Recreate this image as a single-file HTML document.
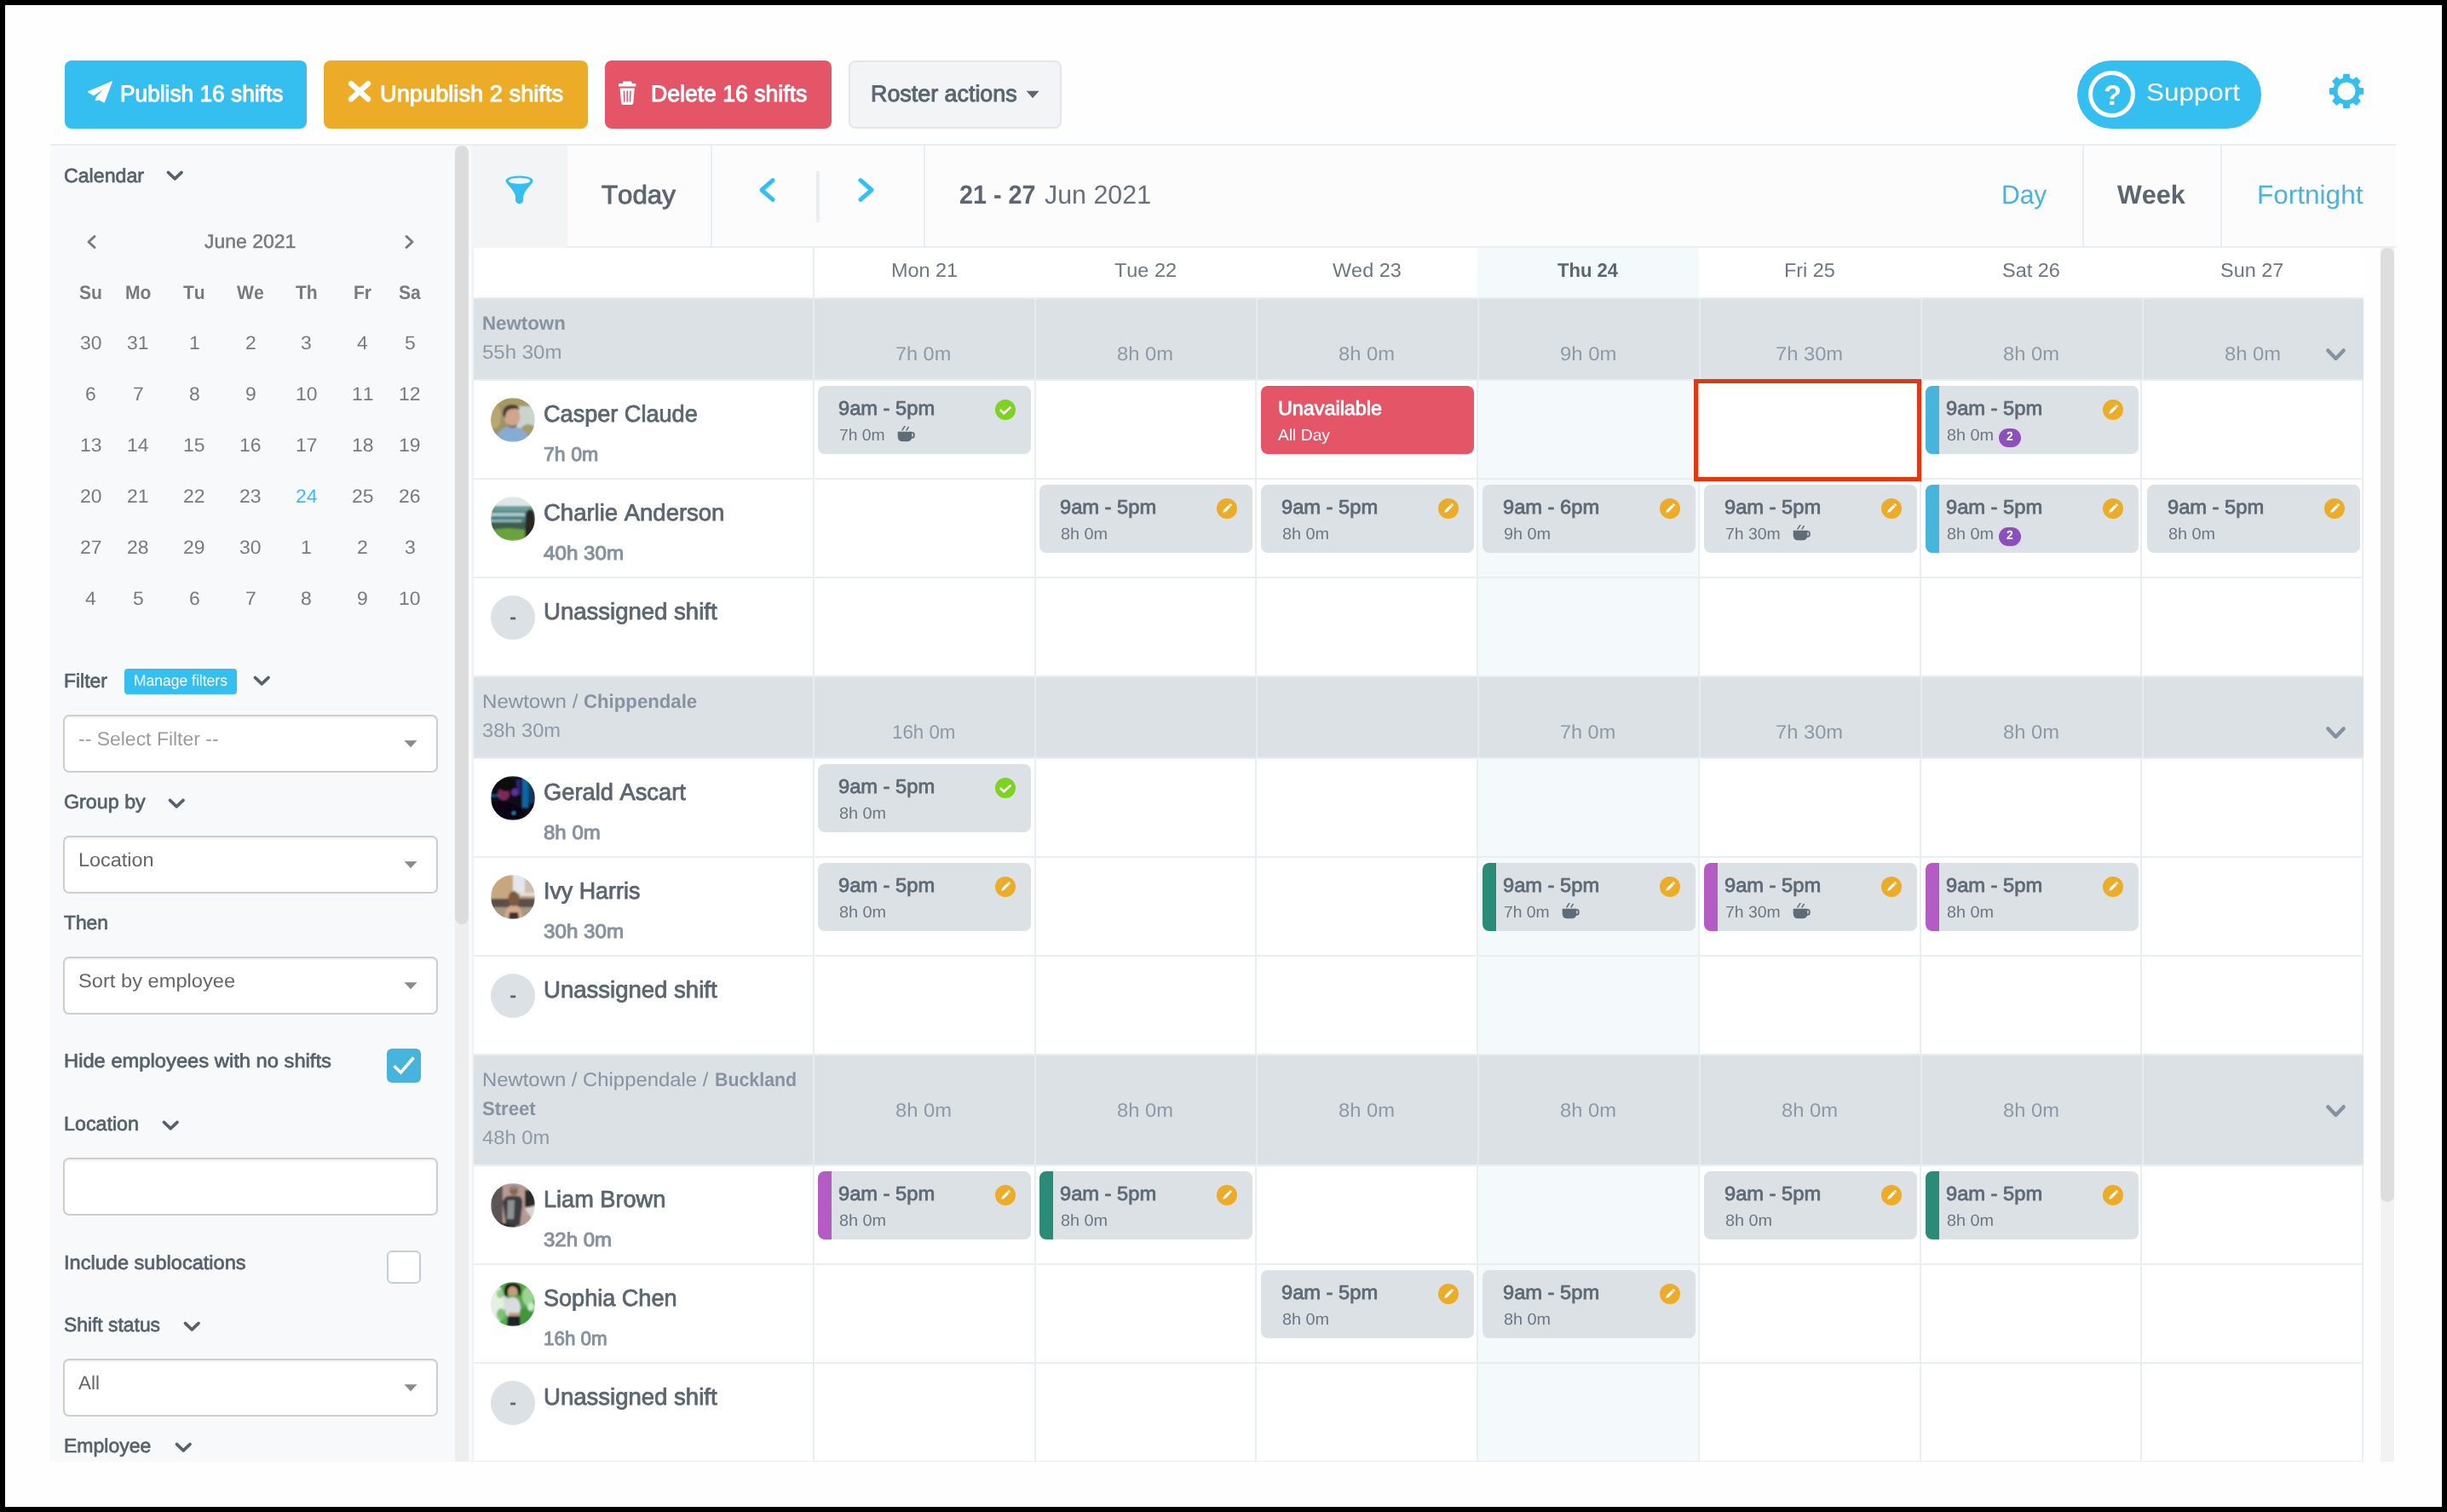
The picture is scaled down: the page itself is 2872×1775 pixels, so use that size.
<!DOCTYPE html>
<html><head><meta charset="utf-8"><title>Roster</title>
<style>
html,body{margin:0;padding:0;background:#000;}
#w{position:absolute;left:0;top:0;width:2872px;height:1775px;will-change:transform;}
body{width:2872px;height:1775px;position:relative;overflow:hidden;font-family:"Liberation Sans",sans-serif;font-kerning:none;text-rendering:geometricPrecision;}
#p{position:absolute;left:6px;top:6px;width:2860px;height:1763px;background:#fefefe;}
div,span.t,svg{position:absolute;box-sizing:border-box;}
span.t{white-space:nowrap;transform-origin:0 0;display:block;}
</style></head><body><div id="w"><div id="p"></div>
<div style="left:59px;top:169px;width:2753px;height:2px;background:#e9eef2;"></div>
<div style="left:76px;top:71px;width:284px;height:80px;background:#35bef0;border-radius:8px;"></div>
<svg style="left:100px;top:92px" width="36" height="32" viewBox="100 92 36 32"><path d="M131.6 95.6 L103 107.8 L109.8 112 L123 103.2 L113.4 113.6 L112 117.8 L116.2 117.2 L122.4 120.2 Z" fill="#fff" stroke="#fff" stroke-width="0.8" stroke-linejoin="round"/></svg>
<span class="t" style="left:141.20px;top:97px;font-size:27.04px;line-height:27.04px;color:#fff;transform:scaleX(0.9721);-webkit-text-stroke:1.0px #fff;">Publish 16 shifts</span>
<div style="left:380px;top:71px;width:310px;height:80px;background:#ecac27;border-radius:8px;"></div>
<svg style="left:404px;top:90px" width="36" height="36" viewBox="404 90 36 36"><path d="M412 98.2 L432 116.4 M432 98.2 L412 116.4" stroke="#fff" stroke-width="6.4" stroke-linecap="round" fill="none"/></svg>
<span class="t" style="left:445.80px;top:97px;font-size:27.04px;line-height:27.04px;color:#fff;transform:scaleX(1.0083);-webkit-text-stroke:1.0px #fff;">Unpublish 2 shifts</span>
<div style="left:710px;top:71px;width:266px;height:80px;background:#e35567;border-radius:8px;"></div>
<svg style="left:722px;top:92px" width="30" height="34" viewBox="722 92 30 34"><path d="M731.5 95.4 h9.4 l1 2.6 h4.4 v3.4 h-20.2 v-3.4 h4.4 z" fill="#fff"/><path d="M727.6 103.6 h17.2 l-1.5 17.2 q-.2 2.2 -2.4 2.2 h-9.4 q-2.2 0 -2.4 -2.2 z" fill="#fff"/><path d="M732.4 106.6 l.5 13 M736.2 106.6 v13 M740 106.6 l-.5 13" stroke="#e35567" stroke-width="1.5" fill="none"/></svg>
<span class="t" style="left:764.20px;top:97px;font-size:27.04px;line-height:27.04px;color:#fff;transform:scaleX(0.9840);-webkit-text-stroke:1.0px #fff;">Delete 16 shifts</span>
<div style="left:996px;top:71px;width:250px;height:80px;background:#f3f4f6;border-radius:8px;border:2px solid #e2e6eb;"></div>
<span class="t" style="left:1021.80px;top:97px;font-size:27.04px;line-height:27.04px;color:#5b6670;transform:scaleX(0.9935);-webkit-text-stroke:1.0px #5b6670;">Roster actions</span>
<svg style="left:1203px;top:105px" width="18" height="12" viewBox="1203 105 18 12"><path d="M1204.6 106.8 h15 l-7.5 8.4 z" fill="#5b6670"/></svg>
<div style="left:2438px;top:71px;width:216px;height:80px;background:#35bef0;border-radius:40px;"></div>
<div style="left:2451px;top:82.5px;width:55px;height:55px;background:transparent;border-radius:50%;border:5px solid #fff;"></div>
<span class="t" style="left:2468.67px;top:96px;font-size:32.85px;line-height:32.85px;color:#fff;transform:scaleX(1.0500);font-weight:700;">?</span>
<span class="t" style="left:2519.20px;top:95px;font-size:28.78px;line-height:28.78px;color:#fff;transform:scaleX(1.0913);">Support</span>
<svg style="left:2730px;top:84px" width="48" height="48" viewBox="2730 84 48 48"><path d="M2750.45 92.22 L2750.93 87.64 L2757.07 87.64 L2757.55 92.22 L2761.94 94.04 L2765.52 91.14 L2769.86 95.48 L2766.96 99.06 L2768.78 103.45 L2773.36 103.93 L2773.36 110.07 L2768.78 110.55 L2766.96 114.94 L2769.86 118.52 L2765.52 122.86 L2761.94 119.96 L2757.55 121.78 L2757.07 126.36 L2750.93 126.36 L2750.45 121.78 L2746.06 119.96 L2742.48 122.86 L2738.14 118.52 L2741.04 114.94 L2739.22 110.55 L2734.64 110.07 L2734.64 103.93 L2739.22 103.45 L2741.04 99.06 L2738.14 95.48 L2742.48 91.14 L2746.06 94.04 Z" fill="#35bef0" stroke="#35bef0" stroke-width="1.6" stroke-linejoin="round"/><circle cx="2754" cy="107" r="10.5" fill="#fefefe"/></svg>
<div style="left:59px;top:171px;width:495px;height:1545px;background:#f8f9fb;"></div>
<div style="left:534px;top:171px;width:16px;height:1545px;background:#eeeeee;border-radius:8px 8px 0 0;"></div>
<div style="left:534px;top:171px;width:16px;height:914px;background:#dcdcdc;border-radius:8px;"></div>
<span class="t" style="left:75.00px;top:195px;font-size:23.11px;line-height:23.11px;color:#56616b;transform:scaleX(1.0023);-webkit-text-stroke:0.7px #56616b;">Calendar</span>
<svg style="left:193px;top:198.4px" width="24.5" height="16.5" viewBox="193 198.4 24.5 16.5"><path d="M197.4 202.8 L205.25 210.3 L213.1 202.8" stroke="#56616b" stroke-width="3.6" fill="none" stroke-linecap="round" stroke-linejoin="round"/></svg>
<svg style="left:99.5px;top:274.2px" width="15" height="20" viewBox="99.5 274.2 15 20"><path d="M110.5 277.7 L103.5 284.2 L110.5 290.7" stroke="#7a7a7a" stroke-width="3" fill="none" stroke-linecap="round" stroke-linejoin="round"/></svg>
<svg style="left:473px;top:274.2px" width="15" height="20" viewBox="473 274.2 15 20"><path d="M477 277.7 L484 284.2 L477 290.7" stroke="#7a7a7a" stroke-width="3" fill="none" stroke-linecap="round" stroke-linejoin="round"/></svg>
<span class="t" style="left:240.15px;top:272px;font-size:22.67px;line-height:22.67px;color:#7a7a7a;transform:scaleX(1.0133);-webkit-text-stroke:0.5px #7a7a7a;">June 2021</span>
<span class="t" style="left:92.83px;top:332px;font-size:22.67px;line-height:22.67px;color:#7a7a7a;transform:scaleX(0.9300);font-weight:700;">Su</span>
<span class="t" style="left:146.78px;top:332px;font-size:22.67px;line-height:22.67px;color:#7a7a7a;transform:scaleX(0.9300);font-weight:700;">Mo</span>
<span class="t" style="left:215.12px;top:332px;font-size:22.67px;line-height:22.67px;color:#7a7a7a;transform:scaleX(0.9300);font-weight:700;">Tu</span>
<span class="t" style="left:278.19px;top:332px;font-size:22.67px;line-height:22.67px;color:#7a7a7a;transform:scaleX(0.9300);font-weight:700;">We</span>
<span class="t" style="left:346.62px;top:332px;font-size:22.67px;line-height:22.67px;color:#7a7a7a;transform:scaleX(0.9300);font-weight:700;">Th</span>
<span class="t" style="left:415.16px;top:332px;font-size:22.67px;line-height:22.67px;color:#7a7a7a;transform:scaleX(0.9300);font-weight:700;">Fr</span>
<span class="t" style="left:468.11px;top:332px;font-size:22.67px;line-height:22.67px;color:#7a7a7a;transform:scaleX(0.9300);font-weight:700;">Sa</span>
<span class="t" style="left:93.56px;top:392px;font-size:22.24px;line-height:22.24px;color:#7a7a7a;transform:scaleX(1.0300);">30</span>
<span class="t" style="left:149.26px;top:392px;font-size:22.24px;line-height:22.24px;color:#7a7a7a;transform:scaleX(1.0300);">31</span>
<span class="t" style="left:221.63px;top:392px;font-size:22.24px;line-height:22.24px;color:#7a7a7a;transform:scaleX(1.0300);">1</span>
<span class="t" style="left:287.63px;top:392px;font-size:22.24px;line-height:22.24px;color:#7a7a7a;transform:scaleX(1.0300);">2</span>
<span class="t" style="left:353.13px;top:392px;font-size:22.24px;line-height:22.24px;color:#7a7a7a;transform:scaleX(1.0300);">3</span>
<span class="t" style="left:419.33px;top:392px;font-size:22.24px;line-height:22.24px;color:#7a7a7a;transform:scaleX(1.0300);">4</span>
<span class="t" style="left:474.63px;top:392px;font-size:22.24px;line-height:22.24px;color:#7a7a7a;transform:scaleX(1.0300);">5</span>
<span class="t" style="left:99.93px;top:452px;font-size:22.24px;line-height:22.24px;color:#7a7a7a;transform:scaleX(1.0300);">6</span>
<span class="t" style="left:155.63px;top:452px;font-size:22.24px;line-height:22.24px;color:#7a7a7a;transform:scaleX(1.0300);">7</span>
<span class="t" style="left:221.63px;top:452px;font-size:22.24px;line-height:22.24px;color:#7a7a7a;transform:scaleX(1.0300);">8</span>
<span class="t" style="left:287.63px;top:452px;font-size:22.24px;line-height:22.24px;color:#7a7a7a;transform:scaleX(1.0300);">9</span>
<span class="t" style="left:346.76px;top:452px;font-size:22.24px;line-height:22.24px;color:#7a7a7a;transform:scaleX(1.0300);">10</span>
<span class="t" style="left:412.96px;top:452px;font-size:22.24px;line-height:22.24px;color:#7a7a7a;transform:scaleX(1.0300);">11</span>
<span class="t" style="left:468.26px;top:452px;font-size:22.24px;line-height:22.24px;color:#7a7a7a;transform:scaleX(1.0300);">12</span>
<span class="t" style="left:93.56px;top:512px;font-size:22.24px;line-height:22.24px;color:#7a7a7a;transform:scaleX(1.0300);">13</span>
<span class="t" style="left:149.26px;top:512px;font-size:22.24px;line-height:22.24px;color:#7a7a7a;transform:scaleX(1.0300);">14</span>
<span class="t" style="left:215.26px;top:512px;font-size:22.24px;line-height:22.24px;color:#7a7a7a;transform:scaleX(1.0300);">15</span>
<span class="t" style="left:281.26px;top:512px;font-size:22.24px;line-height:22.24px;color:#7a7a7a;transform:scaleX(1.0300);">16</span>
<span class="t" style="left:346.76px;top:512px;font-size:22.24px;line-height:22.24px;color:#7a7a7a;transform:scaleX(1.0300);">17</span>
<span class="t" style="left:412.96px;top:512px;font-size:22.24px;line-height:22.24px;color:#7a7a7a;transform:scaleX(1.0300);">18</span>
<span class="t" style="left:468.26px;top:512px;font-size:22.24px;line-height:22.24px;color:#7a7a7a;transform:scaleX(1.0300);">19</span>
<span class="t" style="left:93.56px;top:572px;font-size:22.24px;line-height:22.24px;color:#7a7a7a;transform:scaleX(1.0300);">20</span>
<span class="t" style="left:149.26px;top:572px;font-size:22.24px;line-height:22.24px;color:#7a7a7a;transform:scaleX(1.0300);">21</span>
<span class="t" style="left:215.26px;top:572px;font-size:22.24px;line-height:22.24px;color:#7a7a7a;transform:scaleX(1.0300);">22</span>
<span class="t" style="left:281.26px;top:572px;font-size:22.24px;line-height:22.24px;color:#7a7a7a;transform:scaleX(1.0300);">23</span>
<span class="t" style="left:346.76px;top:572px;font-size:22.24px;line-height:22.24px;color:#38bdf0;transform:scaleX(1.0300);">24</span>
<span class="t" style="left:412.96px;top:572px;font-size:22.24px;line-height:22.24px;color:#7a7a7a;transform:scaleX(1.0300);">25</span>
<span class="t" style="left:468.26px;top:572px;font-size:22.24px;line-height:22.24px;color:#7a7a7a;transform:scaleX(1.0300);">26</span>
<span class="t" style="left:93.56px;top:632px;font-size:22.24px;line-height:22.24px;color:#7a7a7a;transform:scaleX(1.0300);">27</span>
<span class="t" style="left:149.26px;top:632px;font-size:22.24px;line-height:22.24px;color:#7a7a7a;transform:scaleX(1.0300);">28</span>
<span class="t" style="left:215.26px;top:632px;font-size:22.24px;line-height:22.24px;color:#7a7a7a;transform:scaleX(1.0300);">29</span>
<span class="t" style="left:281.26px;top:632px;font-size:22.24px;line-height:22.24px;color:#7a7a7a;transform:scaleX(1.0300);">30</span>
<span class="t" style="left:353.13px;top:632px;font-size:22.24px;line-height:22.24px;color:#7a7a7a;transform:scaleX(1.0300);">1</span>
<span class="t" style="left:419.33px;top:632px;font-size:22.24px;line-height:22.24px;color:#7a7a7a;transform:scaleX(1.0300);">2</span>
<span class="t" style="left:474.63px;top:632px;font-size:22.24px;line-height:22.24px;color:#7a7a7a;transform:scaleX(1.0300);">3</span>
<span class="t" style="left:99.93px;top:692px;font-size:22.24px;line-height:22.24px;color:#7a7a7a;transform:scaleX(1.0300);">4</span>
<span class="t" style="left:155.63px;top:692px;font-size:22.24px;line-height:22.24px;color:#7a7a7a;transform:scaleX(1.0300);">5</span>
<span class="t" style="left:221.63px;top:692px;font-size:22.24px;line-height:22.24px;color:#7a7a7a;transform:scaleX(1.0300);">6</span>
<span class="t" style="left:287.63px;top:692px;font-size:22.24px;line-height:22.24px;color:#7a7a7a;transform:scaleX(1.0300);">7</span>
<span class="t" style="left:353.13px;top:692px;font-size:22.24px;line-height:22.24px;color:#7a7a7a;transform:scaleX(1.0300);">8</span>
<span class="t" style="left:419.33px;top:692px;font-size:22.24px;line-height:22.24px;color:#7a7a7a;transform:scaleX(1.0300);">9</span>
<span class="t" style="left:468.26px;top:692px;font-size:22.24px;line-height:22.24px;color:#7a7a7a;transform:scaleX(1.0300);">10</span>
<span class="t" style="left:75.00px;top:788px;font-size:23.11px;line-height:23.11px;color:#56616b;transform:scaleX(0.9931);-webkit-text-stroke:0.7px #56616b;">Filter</span>
<div style="left:146px;top:785px;width:132px;height:30px;background:#35bef0;border-radius:4px;"></div>
<span class="t" style="left:157.00px;top:790px;font-size:18.31px;line-height:18.31px;color:#fff;transform:scaleX(0.9565);">Manage filters</span>
<svg style="left:295px;top:791px" width="24.5" height="16.5" viewBox="295 791 24.5 16.5"><path d="M299.4 795.4 L307.25 802.9 L315.1 795.4" stroke="#56616b" stroke-width="3.6" fill="none" stroke-linecap="round" stroke-linejoin="round"/></svg>
<div style="left:74px;top:839.2px;width:440px;height:67.6px;background:#fff;border-radius:7px;border:2px solid #cdcdcd;box-shadow:inset 0 2px 2px rgba(0,0,0,.05);"></div>
<span class="t" style="left:92.00px;top:857px;font-size:22.53px;line-height:22.53px;color:#9c9c9c;transform:scaleX(1.0200);">-- Select Filter --</span>
<svg style="left:473px;top:868px" width="18" height="11" viewBox="473 868 18 11"><path d="M474.5 869.2 h15 l-7.5 8 z" fill="#8a8a8a"/></svg>
<span class="t" style="left:75.00px;top:930px;font-size:23.11px;line-height:23.11px;color:#56616b;transform:scaleX(1.0068);-webkit-text-stroke:0.7px #56616b;">Group by</span>
<svg style="left:195px;top:935px" width="24.5" height="16.5" viewBox="195 935 24.5 16.5"><path d="M199.4 939.4 L207.25 946.9 L215.1 939.4" stroke="#56616b" stroke-width="3.6" fill="none" stroke-linecap="round" stroke-linejoin="round"/></svg>
<div style="left:74px;top:981.2px;width:440px;height:67.6px;background:#fff;border-radius:7px;border:2px solid #cdcdcd;box-shadow:inset 0 2px 2px rgba(0,0,0,.05);"></div>
<span class="t" style="left:92.00px;top:999px;font-size:22.53px;line-height:22.53px;color:#666;transform:scaleX(1.0413);">Location</span>
<svg style="left:473px;top:1010px" width="18" height="11" viewBox="473 1010 18 11"><path d="M474.5 1011.2 h15 l-7.5 8 z" fill="#8a8a8a"/></svg>
<span class="t" style="left:75.00px;top:1072px;font-size:23.11px;line-height:23.11px;color:#56616b;transform:scaleX(0.9872);-webkit-text-stroke:0.7px #56616b;">Then</span>
<div style="left:74px;top:1123.2px;width:440px;height:67.6px;background:#fff;border-radius:7px;border:2px solid #cdcdcd;box-shadow:inset 0 2px 2px rgba(0,0,0,.05);"></div>
<span class="t" style="left:92.00px;top:1141px;font-size:22.53px;line-height:22.53px;color:#666;transform:scaleX(1.0512);">Sort by employee</span>
<svg style="left:473px;top:1152px" width="18" height="11" viewBox="473 1152 18 11"><path d="M474.5 1153.2 h15 l-7.5 8 z" fill="#8a8a8a"/></svg>
<span class="t" style="left:75.00px;top:1234px;font-size:22.82px;line-height:22.82px;color:#56616b;transform:scaleX(1.0402);-webkit-text-stroke:0.7px #56616b;">Hide employees with no shifts</span>
<div style="left:454px;top:1231px;width:40px;height:40px;background:#46b4dc;border-radius:6px;"></div>
<svg style="left:454px;top:1231px" width="40" height="40" viewBox="0 0 40 40"><path d="M8.5 20.5 L16.5 28 L31.5 10.5" stroke="#fff" stroke-width="3.6" fill="none"/></svg>
<span class="t" style="left:75.00px;top:1308px;font-size:23.11px;line-height:23.11px;color:#56616b;transform:scaleX(1.0072);-webkit-text-stroke:0.7px #56616b;">Location</span>
<svg style="left:188px;top:1313px" width="24.5" height="16.5" viewBox="188 1313 24.5 16.5"><path d="M192.4 1317.4 L200.25 1324.9 L208.1 1317.4" stroke="#56616b" stroke-width="3.6" fill="none" stroke-linecap="round" stroke-linejoin="round"/></svg>
<div style="left:74px;top:1359.2px;width:440px;height:67.6px;background:#fff;border-radius:7px;border:2px solid #cdcdcd;box-shadow:inset 0 2px 2px rgba(0,0,0,.05);"></div>
<span class="t" style="left:75.00px;top:1471px;font-size:23.11px;line-height:23.11px;color:#56616b;transform:scaleX(1.0200);-webkit-text-stroke:0.7px #56616b;">Include sublocations</span>
<div style="left:454px;top:1467.5px;width:40px;height:39px;background:#fff;border-radius:6px;border:2px solid #c3cedb;"></div>
<span class="t" style="left:75.00px;top:1544px;font-size:23.11px;line-height:23.11px;color:#56616b;transform:scaleX(0.9885);-webkit-text-stroke:0.7px #56616b;">Shift status</span>
<svg style="left:213px;top:1549px" width="24.5" height="16.5" viewBox="213 1549 24.5 16.5"><path d="M217.4 1553.4 L225.25 1560.9 L233.1 1553.4" stroke="#56616b" stroke-width="3.6" fill="none" stroke-linecap="round" stroke-linejoin="round"/></svg>
<div style="left:74px;top:1595.2px;width:440px;height:67.6px;background:#fff;border-radius:7px;border:2px solid #cdcdcd;box-shadow:inset 0 2px 2px rgba(0,0,0,.05);"></div>
<span class="t" style="left:92.00px;top:1613px;font-size:22.53px;line-height:22.53px;color:#666;transform:scaleX(0.9985);">All</span>
<svg style="left:473px;top:1624px" width="18" height="11" viewBox="473 1624 18 11"><path d="M474.5 1625.2 h15 l-7.5 8 z" fill="#8a8a8a"/></svg>
<span class="t" style="left:75.00px;top:1686px;font-size:23.11px;line-height:23.11px;color:#56616b;transform:scaleX(0.9964);-webkit-text-stroke:0.7px #56616b;">Employee</span>
<svg style="left:202.5px;top:1691px" width="24.5" height="16.5" viewBox="202.5 1691 24.5 16.5"><path d="M206.9 1695.4 L214.75 1702.9 L222.6 1695.4" stroke="#56616b" stroke-width="3.6" fill="none" stroke-linecap="round" stroke-linejoin="round"/></svg>
<div style="left:554px;top:171px;width:2258px;height:118px;background:#fcfcfc;"></div>
<div style="left:554px;top:289px;width:2258px;height:2px;background:#e9eef2;"></div>
<div style="left:554px;top:171px;width:111.6px;height:120px;background:#f3f4f6;"></div>
<div style="left:834px;top:171px;width:2px;height:118px;background:#e9eef2;"></div>
<div style="left:1084px;top:171px;width:2px;height:118px;background:#e9eef2;"></div>
<div style="left:2444px;top:171px;width:2px;height:118px;background:#e9eef2;"></div>
<div style="left:2606px;top:171px;width:2px;height:118px;background:#e9eef2;"></div>
<div style="left:958px;top:201px;width:4px;height:60px;background:#e9eef2;"></div>
<svg style="left:590px;top:203px" width="40" height="40" viewBox="590 203 40 40"><path fill-rule="evenodd" d="M593.5 212.6 C593.5 204.6 625.7 204.6 625.7 212.6 C625.7 215.2 615.4 223.6 614.2 230.4 L614.2 234.8 C614.2 240.6 605 240.6 605 234.8 L605 230.4 C603.8 223.6 593.5 215.2 593.5 212.6 Z M596.9 212.2 C596.9 216.9 622.3 216.9 622.3 212.2 C622.3 207.5 596.9 207.5 596.9 212.2 Z" fill="#35bef0"/></svg>
<span class="t" style="left:706.10px;top:214px;font-size:30.52px;line-height:30.52px;color:#5b6670;transform:scaleX(1.0233);-webkit-text-stroke:0.9px #5b6670;">Today</span>
<svg style="left:887.5px;top:206px" width="25" height="34" viewBox="887.5 206 25 34"><path d="M906.5 211.6 L893.5 223 L906.5 234.4" stroke="#35bef0" stroke-width="5" fill="none" stroke-linecap="round" stroke-linejoin="round"/></svg>
<svg style="left:1003.5px;top:206px" width="25" height="34" viewBox="1003.5 206 25 34"><path d="M1009.5 211.6 L1022.5 223 L1009.5 234.4" stroke="#35bef0" stroke-width="5" fill="none" stroke-linecap="round" stroke-linejoin="round"/></svg>
<span class="t" style="left:1125.70px;top:214px;font-size:30.81px;line-height:30.81px;color:#5b6670;transform:scaleX(0.9331);font-weight:700;">21 - 27</span>
<span class="t" style="left:1226.30px;top:214px;font-size:30.81px;line-height:30.81px;color:#66717b;transform:scaleX(0.9868);">Jun 2021</span>
<span class="t" style="left:2349.00px;top:214px;font-size:30.81px;line-height:30.81px;color:#4bb3d8;transform:scaleX(0.9746);">Day</span>
<span class="t" style="left:2485.30px;top:214px;font-size:30.81px;line-height:30.81px;color:#5b6670;transform:scaleX(0.9902);font-weight:700;">Week</span>
<span class="t" style="left:2648.80px;top:214px;font-size:30.81px;line-height:30.81px;color:#4bb3d8;transform:scaleX(1.0240);">Fortnight</span>
<div style="left:556px;top:291px;width:2216px;height:1426px;background:#fff;"></div>
<div style="left:554px;top:291px;width:2px;height:1426px;background:#eef2f5;"></div>
<div style="left:1734px;top:291px;width:260px;height:1426px;background:#f4f9fc;"></div>
<div style="left:2794px;top:291px;width:16px;height:1425px;background:#f2f2f2;"></div>
<div style="left:2794px;top:291px;width:16px;height:1120px;background:#dedede;border-radius:8px;"></div>
<span class="t" style="left:1045.78px;top:306px;font-size:22.97px;line-height:22.97px;color:#6c7781;transform:scaleX(1.0200);">Mon 21</span>
<span class="t" style="left:1308.09px;top:306px;font-size:22.97px;line-height:22.97px;color:#6c7781;transform:scaleX(1.0200);">Tue 22</span>
<span class="t" style="left:1563.91px;top:306px;font-size:22.97px;line-height:22.97px;color:#6c7781;transform:scaleX(1.0200);">Wed 23</span>
<span class="t" style="left:1828.46px;top:306px;font-size:22.97px;line-height:22.97px;color:#5b6670;transform:scaleX(0.9600);font-weight:700;">Thu 24</span>
<span class="t" style="left:2093.76px;top:306px;font-size:22.97px;line-height:22.97px;color:#6c7781;transform:scaleX(1.0200);">Fri 25</span>
<span class="t" style="left:2349.55px;top:306px;font-size:22.97px;line-height:22.97px;color:#6c7781;transform:scaleX(1.0200);">Sat 26</span>
<span class="t" style="left:2606.01px;top:306px;font-size:22.97px;line-height:22.97px;color:#6c7781;transform:scaleX(1.0200);">Sun 27</span>
<div style="left:954px;top:291px;width:2px;height:58px;background:#e9eef2;"></div>
<div style="left:556px;top:349px;width:2218px;height:2px;background:#e9eef2;"></div>
<div style="left:556px;top:351px;width:2218px;height:94px;background:#dbe1e5;"></div>
<div style="left:954px;top:351px;width:2px;height:94px;background:#e6ebef;"></div>
<div style="left:1214px;top:351px;width:2px;height:94px;background:#e6ebef;"></div>
<div style="left:1474px;top:351px;width:2px;height:94px;background:#e6ebef;"></div>
<div style="left:1734px;top:351px;width:2px;height:94px;background:#e6ebef;"></div>
<div style="left:1994px;top:351px;width:2px;height:94px;background:#e6ebef;"></div>
<div style="left:2254px;top:351px;width:2px;height:94px;background:#e6ebef;"></div>
<div style="left:2514px;top:351px;width:2px;height:94px;background:#e6ebef;"></div>
<div style="left:556px;top:445px;width:2218px;height:2px;background:#e9eef2;"></div>
<span class="t" style="left:566.20px;top:368px;font-size:22.67px;line-height:22.67px;color:#8793a0;transform:scaleX(0.9830);font-weight:700;">Newtown</span>
<span class="t" style="left:566.20px;top:402px;font-size:22.67px;line-height:22.67px;color:#8e9aa5;transform:scaleX(1.0598);">55h 30m</span>
<span class="t" style="left:1051.20px;top:404px;font-size:22.67px;line-height:22.67px;color:#8e9aa5;transform:scaleX(1.0348);">7h 0m</span>
<span class="t" style="left:1310.80px;top:404px;font-size:22.67px;line-height:22.67px;color:#8e9aa5;transform:scaleX(1.0475);">8h 0m</span>
<span class="t" style="left:1570.80px;top:404px;font-size:22.67px;line-height:22.67px;color:#8e9aa5;transform:scaleX(1.0475);">8h 0m</span>
<span class="t" style="left:1830.50px;top:404px;font-size:22.67px;line-height:22.67px;color:#8e9aa5;transform:scaleX(1.0570);">9h 0m</span>
<span class="t" style="left:2084.25px;top:404px;font-size:22.67px;line-height:22.67px;color:#8e9aa5;transform:scaleX(1.0461);">7h 30m</span>
<span class="t" style="left:2350.80px;top:404px;font-size:22.67px;line-height:22.67px;color:#8e9aa5;transform:scaleX(1.0475);">8h 0m</span>
<span class="t" style="left:2610.80px;top:404px;font-size:22.67px;line-height:22.67px;color:#8e9aa5;transform:scaleX(1.0475);">8h 0m</span>
<svg style="left:2728px;top:407.4px" width="27" height="18.5" viewBox="2728 407.4 27 18.5"><path d="M2732.4 411.79999999999995 L2741.5 421.29999999999995 L2750.6 411.79999999999995" stroke="#8391a0" stroke-width="4.4" fill="none" stroke-linecap="round" stroke-linejoin="round"/></svg>
<div style="left:556px;top:561px;width:2218px;height:2px;background:#e9eef2;"></div>
<div style="left:954px;top:447px;width:2px;height:114px;background:#e9eef2;"></div>
<div style="left:1214px;top:447px;width:2px;height:114px;background:#e9eef2;"></div>
<div style="left:1473px;top:447px;width:2px;height:114px;background:#e9eef2;"></div>
<div style="left:1733px;top:447px;width:2px;height:114px;background:#e9eef2;"></div>
<div style="left:1993px;top:447px;width:2px;height:114px;background:#e9eef2;"></div>
<div style="left:2253px;top:447px;width:2px;height:114px;background:#e9eef2;"></div>
<div style="left:2512px;top:447px;width:2px;height:114px;background:#e9eef2;"></div>
<div style="left:2772px;top:447px;width:2px;height:114px;background:#e9eef2;"></div>
<svg style="left:576px;top:467px" width="52" height="52" viewBox="0 0 52 52"><defs><clipPath id="c447"><circle cx="26" cy="26" r="26"/></clipPath><filter id="f447" x="-10%" y="-10%" width="120%" height="120%"><feGaussianBlur stdDeviation="0.9"/></filter></defs><g clip-path="url(#c447)"><g filter="url(#f447)"><rect width="52" height="52" fill="#9c9468"/><rect x="30" y="8" width="22" height="30" fill="#c9d4cf"/><rect x="0" y="0" width="52" height="10" fill="#a59a62"/><ellipse cx="44" cy="40" rx="10" ry="9" fill="#a79c63"/><ellipse cx="4" cy="22" rx="8" ry="14" fill="#b7a871"/><path d="M4 52 Q8 36 22 33 L33 35 Q44 40 46 52 Z" fill="#88abd3"/><ellipse cx="25" cy="22" rx="9.5" ry="11.5" fill="#cfa58b"/><path d="M14 20 Q14 8 25 8 Q33 8 34 14 Q26 11 20 15 Q17 18 17 24 Z" fill="#4a3b30"/><path d="M19 30 Q25 36 31 30 L30 34 Q25 37 21 34 Z" fill="#8a6a55"/></g></g></svg>
<span class="t" style="left:638.20px;top:472px;font-size:27.47px;line-height:27.47px;color:#5b6670;transform:scaleX(0.9862);-webkit-text-stroke:0.8px #5b6670;">Casper Claude</span>
<span class="t" style="left:638.00px;top:522px;font-size:22.82px;line-height:22.82px;color:#8793a0;transform:scaleX(1.0138);-webkit-text-stroke:1.0px #8793a0;">7h 0m</span>
<div style="left:960px;top:453px;width:250px;height:80px;background:#dbe1e5;border-radius:8px;overflow:hidden;"></div>
<span class="t" style="left:984.40px;top:468px;font-size:23.11px;line-height:23.11px;color:#5e6a75;transform:scaleX(1.0240);-webkit-text-stroke:0.8px #5e6a75;">9am - 5pm</span>
<span class="t" style="left:984.60px;top:502px;font-size:19.04px;line-height:19.04px;color:#6c7781;transform:scaleX(1.0148);">7h 0m</span>
<svg style="left:1053.3px;top:499.6px" width="22" height="20" viewBox="0 0 22 20"><path d="M0.7 6.8 H17.3 V12.2 Q17.3 18.3 11.6 18.3 H6.4 Q0.7 18.3 0.7 12.2 Z" fill="#5f6b76"/><path d="M17 8.1 H18.4 Q19.8 8.1 19.8 10.9 Q19.8 13.8 17.6 13.8 H16.4" stroke="#5f6b76" stroke-width="1.9" fill="none"/><path d="M5.9 4.9 L8.8 0.6 M11.1 4.9 L13.1 1.7" stroke="#5f6b76" stroke-width="1.6" stroke-linecap="round"/></svg>
<div style="left:1168px;top:469px;width:24px;height:24px;background:#7ed321;border-radius:50%;"></div>
<svg style="left:1168px;top:469px" width="24" height="24" viewBox="-12 -12 24 24"><path d="M-6.2 0 L-1.7 4.3 L6.5 -3.4" stroke="#fff" stroke-width="2.6" fill="none"/></svg>
<div style="left:1480px;top:453px;width:250px;height:80px;background:#e35567;border-radius:8px;"></div>
<span class="t" style="left:1499.70px;top:468px;font-size:23.11px;line-height:23.11px;color:#fff;transform:scaleX(1.0102);-webkit-text-stroke:0.8px #fff;">Unavailable</span>
<span class="t" style="left:1499.70px;top:502px;font-size:19.04px;line-height:19.04px;color:#fff;transform:scaleX(1.0115);">All Day</span>
<div style="left:2260px;top:453px;width:250px;height:80px;background:#dbe1e5;border-radius:8px;overflow:hidden;"><div style="left:0;top:0;width:16px;height:80px;background:#47b4dc"></div></div>
<span class="t" style="left:2284.40px;top:468px;font-size:23.11px;line-height:23.11px;color:#5e6a75;transform:scaleX(1.0240);-webkit-text-stroke:0.8px #5e6a75;">9am - 5pm</span>
<span class="t" style="left:2284.60px;top:502px;font-size:19.04px;line-height:19.04px;color:#6c7781;transform:scaleX(1.0412);">8h 0m</span>
<div style="left:2346.3px;top:503px;width:26px;height:22px;background:#8c4fbc;border-radius:11px;"></div>
<span class="t" style="left:2355.46px;top:506px;font-size:14.54px;line-height:14.54px;color:#fff;transform:scaleX(0.9500);font-weight:700;">2</span>
<div style="left:2468px;top:469px;width:24px;height:24px;background:#ecac27;border-radius:50%;"></div>
<svg style="left:2468px;top:469px" width="24" height="24" viewBox="-12 -12 24 24"><g transform="rotate(45)"><rect x="-1.6" y="-7.2" width="3.2" height="2" fill="#fff"/><path d="M-1.6 -4.5 h3.2 v8.4 l-1.6 2.8 l-1.6 -2.8 z" fill="#fff"/></g></svg>
<div style="left:556px;top:677px;width:2218px;height:2px;background:#e9eef2;"></div>
<div style="left:954px;top:563px;width:2px;height:114px;background:#e9eef2;"></div>
<div style="left:1214px;top:563px;width:2px;height:114px;background:#e9eef2;"></div>
<div style="left:1473px;top:563px;width:2px;height:114px;background:#e9eef2;"></div>
<div style="left:1733px;top:563px;width:2px;height:114px;background:#e9eef2;"></div>
<div style="left:1993px;top:563px;width:2px;height:114px;background:#e9eef2;"></div>
<div style="left:2253px;top:563px;width:2px;height:114px;background:#e9eef2;"></div>
<div style="left:2512px;top:563px;width:2px;height:114px;background:#e9eef2;"></div>
<div style="left:2772px;top:563px;width:2px;height:114px;background:#e9eef2;"></div>
<svg style="left:576px;top:583px" width="52" height="52" viewBox="0 0 52 52"><defs><clipPath id="c563"><circle cx="26" cy="26" r="26"/></clipPath><filter id="f563" x="-10%" y="-10%" width="120%" height="120%"><feGaussianBlur stdDeviation="0.9"/></filter></defs><g clip-path="url(#c563)"><g filter="url(#f563)"><rect width="52" height="52" fill="#4d7d7c"/><rect width="52" height="11" fill="#dfe6e6"/><rect y="11" width="52" height="6" fill="#6b9d9a"/><rect y="19" width="40" height="4" fill="#a9c7c9"/><rect y="27" width="36" height="3" fill="#8fb4b8"/><rect y="30" width="52" height="8" fill="#3f5d4e"/><path d="M0 40 Q20 34 42 40 L52 52 L0 52 Z" fill="#6aa23c"/><path d="M40 52 L41 24 Q42 14 47 15 Q52 16 52 30 L52 52 Z" fill="#2b2724"/></g></g></svg>
<span class="t" style="left:638.20px;top:588px;font-size:27.47px;line-height:27.47px;color:#5b6670;transform:scaleX(1.0007);-webkit-text-stroke:0.8px #5b6670;">Charlie Anderson</span>
<span class="t" style="left:638.00px;top:638px;font-size:22.82px;line-height:22.82px;color:#8793a0;transform:scaleX(1.0596);-webkit-text-stroke:1.0px #8793a0;">40h 30m</span>
<div style="left:1220px;top:569px;width:250px;height:80px;background:#dbe1e5;border-radius:8px;overflow:hidden;"></div>
<span class="t" style="left:1244.40px;top:584px;font-size:23.11px;line-height:23.11px;color:#5e6a75;transform:scaleX(1.0240);-webkit-text-stroke:0.8px #5e6a75;">9am - 5pm</span>
<span class="t" style="left:1244.60px;top:618px;font-size:19.04px;line-height:19.04px;color:#6c7781;transform:scaleX(1.0412);">8h 0m</span>
<div style="left:1428px;top:585px;width:24px;height:24px;background:#ecac27;border-radius:50%;"></div>
<svg style="left:1428px;top:585px" width="24" height="24" viewBox="-12 -12 24 24"><g transform="rotate(45)"><rect x="-1.6" y="-7.2" width="3.2" height="2" fill="#fff"/><path d="M-1.6 -4.5 h3.2 v8.4 l-1.6 2.8 l-1.6 -2.8 z" fill="#fff"/></g></svg>
<div style="left:1480px;top:569px;width:250px;height:80px;background:#dbe1e5;border-radius:8px;overflow:hidden;"></div>
<span class="t" style="left:1504.40px;top:584px;font-size:23.11px;line-height:23.11px;color:#5e6a75;transform:scaleX(1.0240);-webkit-text-stroke:0.8px #5e6a75;">9am - 5pm</span>
<span class="t" style="left:1504.60px;top:618px;font-size:19.04px;line-height:19.04px;color:#6c7781;transform:scaleX(1.0412);">8h 0m</span>
<div style="left:1688px;top:585px;width:24px;height:24px;background:#ecac27;border-radius:50%;"></div>
<svg style="left:1688px;top:585px" width="24" height="24" viewBox="-12 -12 24 24"><g transform="rotate(45)"><rect x="-1.6" y="-7.2" width="3.2" height="2" fill="#fff"/><path d="M-1.6 -4.5 h3.2 v8.4 l-1.6 2.8 l-1.6 -2.8 z" fill="#fff"/></g></svg>
<div style="left:1740px;top:569px;width:250px;height:80px;background:#dbe1e5;border-radius:8px;overflow:hidden;"></div>
<span class="t" style="left:1764.40px;top:584px;font-size:23.11px;line-height:23.11px;color:#5e6a75;transform:scaleX(1.0240);-webkit-text-stroke:0.8px #5e6a75;">9am - 6pm</span>
<span class="t" style="left:1764.60px;top:618px;font-size:19.04px;line-height:19.04px;color:#6c7781;transform:scaleX(1.0412);">9h 0m</span>
<div style="left:1948px;top:585px;width:24px;height:24px;background:#ecac27;border-radius:50%;"></div>
<svg style="left:1948px;top:585px" width="24" height="24" viewBox="-12 -12 24 24"><g transform="rotate(45)"><rect x="-1.6" y="-7.2" width="3.2" height="2" fill="#fff"/><path d="M-1.6 -4.5 h3.2 v8.4 l-1.6 2.8 l-1.6 -2.8 z" fill="#fff"/></g></svg>
<div style="left:2000px;top:569px;width:250px;height:80px;background:#dbe1e5;border-radius:8px;overflow:hidden;"></div>
<span class="t" style="left:2024.40px;top:584px;font-size:23.11px;line-height:23.11px;color:#5e6a75;transform:scaleX(1.0240);-webkit-text-stroke:0.8px #5e6a75;">9am - 5pm</span>
<span class="t" style="left:2024.60px;top:618px;font-size:19.04px;line-height:19.04px;color:#6c7781;transform:scaleX(1.0188);">7h 30m</span>
<svg style="left:2104.3px;top:615.6px" width="22" height="20" viewBox="0 0 22 20"><path d="M0.7 6.8 H17.3 V12.2 Q17.3 18.3 11.6 18.3 H6.4 Q0.7 18.3 0.7 12.2 Z" fill="#5f6b76"/><path d="M17 8.1 H18.4 Q19.8 8.1 19.8 10.9 Q19.8 13.8 17.6 13.8 H16.4" stroke="#5f6b76" stroke-width="1.9" fill="none"/><path d="M5.9 4.9 L8.8 0.6 M11.1 4.9 L13.1 1.7" stroke="#5f6b76" stroke-width="1.6" stroke-linecap="round"/></svg>
<div style="left:2208px;top:585px;width:24px;height:24px;background:#ecac27;border-radius:50%;"></div>
<svg style="left:2208px;top:585px" width="24" height="24" viewBox="-12 -12 24 24"><g transform="rotate(45)"><rect x="-1.6" y="-7.2" width="3.2" height="2" fill="#fff"/><path d="M-1.6 -4.5 h3.2 v8.4 l-1.6 2.8 l-1.6 -2.8 z" fill="#fff"/></g></svg>
<div style="left:2260px;top:569px;width:250px;height:80px;background:#dbe1e5;border-radius:8px;overflow:hidden;"><div style="left:0;top:0;width:16px;height:80px;background:#47b4dc"></div></div>
<span class="t" style="left:2284.40px;top:584px;font-size:23.11px;line-height:23.11px;color:#5e6a75;transform:scaleX(1.0240);-webkit-text-stroke:0.8px #5e6a75;">9am - 5pm</span>
<span class="t" style="left:2284.60px;top:618px;font-size:19.04px;line-height:19.04px;color:#6c7781;transform:scaleX(1.0412);">8h 0m</span>
<div style="left:2346.3px;top:619px;width:26px;height:22px;background:#8c4fbc;border-radius:11px;"></div>
<span class="t" style="left:2355.46px;top:622px;font-size:14.54px;line-height:14.54px;color:#fff;transform:scaleX(0.9500);font-weight:700;">2</span>
<div style="left:2468px;top:585px;width:24px;height:24px;background:#ecac27;border-radius:50%;"></div>
<svg style="left:2468px;top:585px" width="24" height="24" viewBox="-12 -12 24 24"><g transform="rotate(45)"><rect x="-1.6" y="-7.2" width="3.2" height="2" fill="#fff"/><path d="M-1.6 -4.5 h3.2 v8.4 l-1.6 2.8 l-1.6 -2.8 z" fill="#fff"/></g></svg>
<div style="left:2520px;top:569px;width:250px;height:80px;background:#dbe1e5;border-radius:8px;overflow:hidden;"></div>
<span class="t" style="left:2544.40px;top:584px;font-size:23.11px;line-height:23.11px;color:#5e6a75;transform:scaleX(1.0240);-webkit-text-stroke:0.8px #5e6a75;">9am - 5pm</span>
<span class="t" style="left:2544.60px;top:618px;font-size:19.04px;line-height:19.04px;color:#6c7781;transform:scaleX(1.0412);">8h 0m</span>
<div style="left:2728px;top:585px;width:24px;height:24px;background:#ecac27;border-radius:50%;"></div>
<svg style="left:2728px;top:585px" width="24" height="24" viewBox="-12 -12 24 24"><g transform="rotate(45)"><rect x="-1.6" y="-7.2" width="3.2" height="2" fill="#fff"/><path d="M-1.6 -4.5 h3.2 v8.4 l-1.6 2.8 l-1.6 -2.8 z" fill="#fff"/></g></svg>
<div style="left:556px;top:793px;width:2218px;height:2px;background:#e9eef2;"></div>
<div style="left:954px;top:679px;width:2px;height:114px;background:#e9eef2;"></div>
<div style="left:1214px;top:679px;width:2px;height:114px;background:#e9eef2;"></div>
<div style="left:1473px;top:679px;width:2px;height:114px;background:#e9eef2;"></div>
<div style="left:1733px;top:679px;width:2px;height:114px;background:#e9eef2;"></div>
<div style="left:1993px;top:679px;width:2px;height:114px;background:#e9eef2;"></div>
<div style="left:2253px;top:679px;width:2px;height:114px;background:#e9eef2;"></div>
<div style="left:2512px;top:679px;width:2px;height:114px;background:#e9eef2;"></div>
<div style="left:2772px;top:679px;width:2px;height:114px;background:#e9eef2;"></div>
<div style="left:576px;top:699px;width:52px;height:52px;background:#dbe1e5;border-radius:50%;"></div>
<span class="t" style="left:598.13px;top:713px;font-size:23.26px;line-height:23.26px;color:#5b6670;transform:scaleX(1.0000);font-weight:700;">-</span>
<span class="t" style="left:638.20px;top:704px;font-size:27.47px;line-height:27.47px;color:#5b6670;transform:scaleX(1.0025);-webkit-text-stroke:0.8px #5b6670;">Unassigned shift</span>
<div style="left:556px;top:795px;width:2218px;height:94px;background:#dbe1e5;"></div>
<div style="left:954px;top:795px;width:2px;height:94px;background:#e6ebef;"></div>
<div style="left:1214px;top:795px;width:2px;height:94px;background:#e6ebef;"></div>
<div style="left:1474px;top:795px;width:2px;height:94px;background:#e6ebef;"></div>
<div style="left:1734px;top:795px;width:2px;height:94px;background:#e6ebef;"></div>
<div style="left:1994px;top:795px;width:2px;height:94px;background:#e6ebef;"></div>
<div style="left:2254px;top:795px;width:2px;height:94px;background:#e6ebef;"></div>
<div style="left:2514px;top:795px;width:2px;height:94px;background:#e6ebef;"></div>
<div style="left:556px;top:889px;width:2218px;height:2px;background:#e9eef2;"></div>
<span class="t" style="left:566.00px;top:812px;font-size:22.67px;line-height:22.67px;color:#8793a0;transform:scaleX(1.0620);">Newtown /</span>
<span class="t" style="left:685.30px;top:812px;font-size:22.67px;line-height:22.67px;color:#8793a0;transform:scaleX(0.9799);font-weight:700;">Chippendale</span>
<span class="t" style="left:566.20px;top:846px;font-size:22.67px;line-height:22.67px;color:#8e9aa5;transform:scaleX(1.0440);">38h 30m</span>
<span class="t" style="left:1046.60px;top:848px;font-size:22.67px;line-height:22.67px;color:#8e9aa5;transform:scaleX(0.9839);">16h 0m</span>
<span class="t" style="left:1831.20px;top:848px;font-size:22.67px;line-height:22.67px;color:#8e9aa5;transform:scaleX(1.0348);">7h 0m</span>
<span class="t" style="left:2084.25px;top:848px;font-size:22.67px;line-height:22.67px;color:#8e9aa5;transform:scaleX(1.0461);">7h 30m</span>
<span class="t" style="left:2350.80px;top:848px;font-size:22.67px;line-height:22.67px;color:#8e9aa5;transform:scaleX(1.0475);">8h 0m</span>
<svg style="left:2728px;top:851.4px" width="27" height="18.5" viewBox="2728 851.4 27 18.5"><path d="M2732.4 855.8 L2741.5 865.3 L2750.6 855.8" stroke="#8391a0" stroke-width="4.4" fill="none" stroke-linecap="round" stroke-linejoin="round"/></svg>
<div style="left:556px;top:1005px;width:2218px;height:2px;background:#e9eef2;"></div>
<div style="left:954px;top:891px;width:2px;height:114px;background:#e9eef2;"></div>
<div style="left:1214px;top:891px;width:2px;height:114px;background:#e9eef2;"></div>
<div style="left:1473px;top:891px;width:2px;height:114px;background:#e9eef2;"></div>
<div style="left:1733px;top:891px;width:2px;height:114px;background:#e9eef2;"></div>
<div style="left:1993px;top:891px;width:2px;height:114px;background:#e9eef2;"></div>
<div style="left:2253px;top:891px;width:2px;height:114px;background:#e9eef2;"></div>
<div style="left:2512px;top:891px;width:2px;height:114px;background:#e9eef2;"></div>
<div style="left:2772px;top:891px;width:2px;height:114px;background:#e9eef2;"></div>
<svg style="left:576px;top:911px" width="52" height="52" viewBox="0 0 52 52"><defs><clipPath id="c891"><circle cx="26" cy="26" r="26"/></clipPath><filter id="f891" x="-10%" y="-10%" width="120%" height="120%"><feGaussianBlur stdDeviation="0.9"/></filter></defs><g clip-path="url(#c891)"><g filter="url(#f891)"><rect width="52" height="52" fill="#0a0918"/><rect x="37" y="1" width="7" height="36" fill="#0b66a0"/><rect x="44" y="6" width="6" height="26" fill="#0a3a66"/><rect x="30" y="4" width="5" height="18" fill="#2e2070"/><ellipse cx="15" cy="21" rx="7" ry="7.5" fill="#7d2a56"/><ellipse cx="19" cy="11" rx="11" ry="7" fill="#08070f"/><ellipse cx="28" cy="19" rx="4" ry="4.5" fill="#5b3292"/><rect x="0" y="22" width="10" height="2.4" fill="#0d5b8a"/><path d="M0 52 L0 31 Q20 25 38 41 L40 52 Z" fill="#070614"/><circle cx="27" cy="43.5" r="2" fill="#2594bd"/></g></g></svg>
<span class="t" style="left:638.20px;top:916px;font-size:27.47px;line-height:27.47px;color:#5b6670;transform:scaleX(0.9933);-webkit-text-stroke:0.8px #5b6670;">Gerald Ascart</span>
<span class="t" style="left:638.00px;top:966px;font-size:22.82px;line-height:22.82px;color:#8793a0;transform:scaleX(1.0532);-webkit-text-stroke:1.0px #8793a0;">8h 0m</span>
<div style="left:960px;top:897px;width:250px;height:80px;background:#dbe1e5;border-radius:8px;overflow:hidden;"></div>
<span class="t" style="left:984.40px;top:912px;font-size:23.11px;line-height:23.11px;color:#5e6a75;transform:scaleX(1.0240);-webkit-text-stroke:0.8px #5e6a75;">9am - 5pm</span>
<span class="t" style="left:984.60px;top:946px;font-size:19.04px;line-height:19.04px;color:#6c7781;transform:scaleX(1.0412);">8h 0m</span>
<div style="left:1168px;top:913px;width:24px;height:24px;background:#7ed321;border-radius:50%;"></div>
<svg style="left:1168px;top:913px" width="24" height="24" viewBox="-12 -12 24 24"><path d="M-6.2 0 L-1.7 4.3 L6.5 -3.4" stroke="#fff" stroke-width="2.6" fill="none"/></svg>
<div style="left:556px;top:1121px;width:2218px;height:2px;background:#e9eef2;"></div>
<div style="left:954px;top:1007px;width:2px;height:114px;background:#e9eef2;"></div>
<div style="left:1214px;top:1007px;width:2px;height:114px;background:#e9eef2;"></div>
<div style="left:1473px;top:1007px;width:2px;height:114px;background:#e9eef2;"></div>
<div style="left:1733px;top:1007px;width:2px;height:114px;background:#e9eef2;"></div>
<div style="left:1993px;top:1007px;width:2px;height:114px;background:#e9eef2;"></div>
<div style="left:2253px;top:1007px;width:2px;height:114px;background:#e9eef2;"></div>
<div style="left:2512px;top:1007px;width:2px;height:114px;background:#e9eef2;"></div>
<div style="left:2772px;top:1007px;width:2px;height:114px;background:#e9eef2;"></div>
<svg style="left:576px;top:1027px" width="52" height="52" viewBox="0 0 52 52"><defs><clipPath id="c1007"><circle cx="26" cy="26" r="26"/></clipPath><filter id="f1007" x="-10%" y="-10%" width="120%" height="120%"><feGaussianBlur stdDeviation="0.9"/></filter></defs><g clip-path="url(#c1007)"><g filter="url(#f1007)"><rect width="52" height="52" fill="#b59c82"/><rect x="26" y="0" width="14" height="22" fill="#e3e6ea"/><rect x="0" y="0" width="26" height="30" fill="#c9a77e"/><rect x="40" y="4" width="12" height="18" fill="#cdbfae"/><rect x="34" y="21" width="18" height="4" fill="#e6ddd0"/><rect x="0" y="28" width="52" height="10" fill="#5b5048"/><rect x="0" y="38" width="52" height="14" fill="#a69684"/><path d="M16 52 Q17 36 27 35 Q37 36 37 52 Z" fill="#d9a98c"/><ellipse cx="27" cy="28" rx="6.5" ry="9" fill="#7b5b40"/><path d="M22 44 L32 44 L33 52 L21 52 Z" fill="#3a322f"/></g></g></svg>
<span class="t" style="left:638.20px;top:1032px;font-size:27.47px;line-height:27.47px;color:#5b6670;transform:scaleX(0.9769);-webkit-text-stroke:0.8px #5b6670;">Ivy Harris</span>
<span class="t" style="left:638.00px;top:1082px;font-size:22.82px;line-height:22.82px;color:#8793a0;transform:scaleX(1.0596);-webkit-text-stroke:1.0px #8793a0;">30h 30m</span>
<div style="left:960px;top:1013px;width:250px;height:80px;background:#dbe1e5;border-radius:8px;overflow:hidden;"></div>
<span class="t" style="left:984.40px;top:1028px;font-size:23.11px;line-height:23.11px;color:#5e6a75;transform:scaleX(1.0240);-webkit-text-stroke:0.8px #5e6a75;">9am - 5pm</span>
<span class="t" style="left:984.60px;top:1062px;font-size:19.04px;line-height:19.04px;color:#6c7781;transform:scaleX(1.0412);">8h 0m</span>
<div style="left:1168px;top:1029px;width:24px;height:24px;background:#ecac27;border-radius:50%;"></div>
<svg style="left:1168px;top:1029px" width="24" height="24" viewBox="-12 -12 24 24"><g transform="rotate(45)"><rect x="-1.6" y="-7.2" width="3.2" height="2" fill="#fff"/><path d="M-1.6 -4.5 h3.2 v8.4 l-1.6 2.8 l-1.6 -2.8 z" fill="#fff"/></g></svg>
<div style="left:1740px;top:1013px;width:250px;height:80px;background:#dbe1e5;border-radius:8px;overflow:hidden;"><div style="left:0;top:0;width:16px;height:80px;background:#2a8c77"></div></div>
<span class="t" style="left:1764.40px;top:1028px;font-size:23.11px;line-height:23.11px;color:#5e6a75;transform:scaleX(1.0240);-webkit-text-stroke:0.8px #5e6a75;">9am - 5pm</span>
<span class="t" style="left:1764.60px;top:1062px;font-size:19.04px;line-height:19.04px;color:#6c7781;transform:scaleX(1.0148);">7h 0m</span>
<svg style="left:1833.3px;top:1059.6px" width="22" height="20" viewBox="0 0 22 20"><path d="M0.7 6.8 H17.3 V12.2 Q17.3 18.3 11.6 18.3 H6.4 Q0.7 18.3 0.7 12.2 Z" fill="#5f6b76"/><path d="M17 8.1 H18.4 Q19.8 8.1 19.8 10.9 Q19.8 13.8 17.6 13.8 H16.4" stroke="#5f6b76" stroke-width="1.9" fill="none"/><path d="M5.9 4.9 L8.8 0.6 M11.1 4.9 L13.1 1.7" stroke="#5f6b76" stroke-width="1.6" stroke-linecap="round"/></svg>
<div style="left:1948px;top:1029px;width:24px;height:24px;background:#ecac27;border-radius:50%;"></div>
<svg style="left:1948px;top:1029px" width="24" height="24" viewBox="-12 -12 24 24"><g transform="rotate(45)"><rect x="-1.6" y="-7.2" width="3.2" height="2" fill="#fff"/><path d="M-1.6 -4.5 h3.2 v8.4 l-1.6 2.8 l-1.6 -2.8 z" fill="#fff"/></g></svg>
<div style="left:2000px;top:1013px;width:250px;height:80px;background:#dbe1e5;border-radius:8px;overflow:hidden;"><div style="left:0;top:0;width:16px;height:80px;background:#b45cc4"></div></div>
<span class="t" style="left:2024.40px;top:1028px;font-size:23.11px;line-height:23.11px;color:#5e6a75;transform:scaleX(1.0240);-webkit-text-stroke:0.8px #5e6a75;">9am - 5pm</span>
<span class="t" style="left:2024.60px;top:1062px;font-size:19.04px;line-height:19.04px;color:#6c7781;transform:scaleX(1.0188);">7h 30m</span>
<svg style="left:2104.3px;top:1059.6px" width="22" height="20" viewBox="0 0 22 20"><path d="M0.7 6.8 H17.3 V12.2 Q17.3 18.3 11.6 18.3 H6.4 Q0.7 18.3 0.7 12.2 Z" fill="#5f6b76"/><path d="M17 8.1 H18.4 Q19.8 8.1 19.8 10.9 Q19.8 13.8 17.6 13.8 H16.4" stroke="#5f6b76" stroke-width="1.9" fill="none"/><path d="M5.9 4.9 L8.8 0.6 M11.1 4.9 L13.1 1.7" stroke="#5f6b76" stroke-width="1.6" stroke-linecap="round"/></svg>
<div style="left:2208px;top:1029px;width:24px;height:24px;background:#ecac27;border-radius:50%;"></div>
<svg style="left:2208px;top:1029px" width="24" height="24" viewBox="-12 -12 24 24"><g transform="rotate(45)"><rect x="-1.6" y="-7.2" width="3.2" height="2" fill="#fff"/><path d="M-1.6 -4.5 h3.2 v8.4 l-1.6 2.8 l-1.6 -2.8 z" fill="#fff"/></g></svg>
<div style="left:2260px;top:1013px;width:250px;height:80px;background:#dbe1e5;border-radius:8px;overflow:hidden;"><div style="left:0;top:0;width:16px;height:80px;background:#b45cc4"></div></div>
<span class="t" style="left:2284.40px;top:1028px;font-size:23.11px;line-height:23.11px;color:#5e6a75;transform:scaleX(1.0240);-webkit-text-stroke:0.8px #5e6a75;">9am - 5pm</span>
<span class="t" style="left:2284.60px;top:1062px;font-size:19.04px;line-height:19.04px;color:#6c7781;transform:scaleX(1.0412);">8h 0m</span>
<div style="left:2468px;top:1029px;width:24px;height:24px;background:#ecac27;border-radius:50%;"></div>
<svg style="left:2468px;top:1029px" width="24" height="24" viewBox="-12 -12 24 24"><g transform="rotate(45)"><rect x="-1.6" y="-7.2" width="3.2" height="2" fill="#fff"/><path d="M-1.6 -4.5 h3.2 v8.4 l-1.6 2.8 l-1.6 -2.8 z" fill="#fff"/></g></svg>
<div style="left:556px;top:1237px;width:2218px;height:2px;background:#e9eef2;"></div>
<div style="left:954px;top:1123px;width:2px;height:114px;background:#e9eef2;"></div>
<div style="left:1214px;top:1123px;width:2px;height:114px;background:#e9eef2;"></div>
<div style="left:1473px;top:1123px;width:2px;height:114px;background:#e9eef2;"></div>
<div style="left:1733px;top:1123px;width:2px;height:114px;background:#e9eef2;"></div>
<div style="left:1993px;top:1123px;width:2px;height:114px;background:#e9eef2;"></div>
<div style="left:2253px;top:1123px;width:2px;height:114px;background:#e9eef2;"></div>
<div style="left:2512px;top:1123px;width:2px;height:114px;background:#e9eef2;"></div>
<div style="left:2772px;top:1123px;width:2px;height:114px;background:#e9eef2;"></div>
<div style="left:576px;top:1143px;width:52px;height:52px;background:#dbe1e5;border-radius:50%;"></div>
<span class="t" style="left:598.13px;top:1157px;font-size:23.26px;line-height:23.26px;color:#5b6670;transform:scaleX(1.0000);font-weight:700;">-</span>
<span class="t" style="left:638.20px;top:1148px;font-size:27.47px;line-height:27.47px;color:#5b6670;transform:scaleX(1.0025);-webkit-text-stroke:0.8px #5b6670;">Unassigned shift</span>
<div style="left:556px;top:1239px;width:2218px;height:128px;background:#dbe1e5;"></div>
<div style="left:954px;top:1239px;width:2px;height:128px;background:#e6ebef;"></div>
<div style="left:1214px;top:1239px;width:2px;height:128px;background:#e6ebef;"></div>
<div style="left:1474px;top:1239px;width:2px;height:128px;background:#e6ebef;"></div>
<div style="left:1734px;top:1239px;width:2px;height:128px;background:#e6ebef;"></div>
<div style="left:1994px;top:1239px;width:2px;height:128px;background:#e6ebef;"></div>
<div style="left:2254px;top:1239px;width:2px;height:128px;background:#e6ebef;"></div>
<div style="left:2514px;top:1239px;width:2px;height:128px;background:#e6ebef;"></div>
<div style="left:556px;top:1367px;width:2218px;height:2px;background:#e9eef2;"></div>
<span class="t" style="left:566.00px;top:1256px;font-size:22.67px;line-height:22.67px;color:#8793a0;transform:scaleX(1.0534);">Newtown / Chippendale /</span>
<span class="t" style="left:839.10px;top:1256px;font-size:22.67px;line-height:22.67px;color:#8793a0;transform:scaleX(0.9428);font-weight:700;">Buckland</span>
<span class="t" style="left:566.20px;top:1290px;font-size:22.67px;line-height:22.67px;color:#8793a0;transform:scaleX(0.9742);font-weight:700;">Street</span>
<span class="t" style="left:566.20px;top:1324px;font-size:22.67px;line-height:22.67px;color:#8e9aa5;transform:scaleX(1.0501);">48h 0m</span>
<span class="t" style="left:1050.80px;top:1292px;font-size:22.67px;line-height:22.67px;color:#8e9aa5;transform:scaleX(1.0475);">8h 0m</span>
<span class="t" style="left:1310.80px;top:1292px;font-size:22.67px;line-height:22.67px;color:#8e9aa5;transform:scaleX(1.0475);">8h 0m</span>
<span class="t" style="left:1570.80px;top:1292px;font-size:22.67px;line-height:22.67px;color:#8e9aa5;transform:scaleX(1.0475);">8h 0m</span>
<span class="t" style="left:1830.80px;top:1292px;font-size:22.67px;line-height:22.67px;color:#8e9aa5;transform:scaleX(1.0475);">8h 0m</span>
<span class="t" style="left:2090.80px;top:1292px;font-size:22.67px;line-height:22.67px;color:#8e9aa5;transform:scaleX(1.0475);">8h 0m</span>
<span class="t" style="left:2350.80px;top:1292px;font-size:22.67px;line-height:22.67px;color:#8e9aa5;transform:scaleX(1.0475);">8h 0m</span>
<svg style="left:2728px;top:1295.4px" width="27" height="18.5" viewBox="2728 1295.4 27 18.5"><path d="M2732.4 1299.8000000000002 L2741.5 1309.3000000000002 L2750.6 1299.8000000000002" stroke="#8391a0" stroke-width="4.4" fill="none" stroke-linecap="round" stroke-linejoin="round"/></svg>
<div style="left:556px;top:1483px;width:2218px;height:2px;background:#e9eef2;"></div>
<div style="left:954px;top:1369px;width:2px;height:114px;background:#e9eef2;"></div>
<div style="left:1214px;top:1369px;width:2px;height:114px;background:#e9eef2;"></div>
<div style="left:1473px;top:1369px;width:2px;height:114px;background:#e9eef2;"></div>
<div style="left:1733px;top:1369px;width:2px;height:114px;background:#e9eef2;"></div>
<div style="left:1993px;top:1369px;width:2px;height:114px;background:#e9eef2;"></div>
<div style="left:2253px;top:1369px;width:2px;height:114px;background:#e9eef2;"></div>
<div style="left:2512px;top:1369px;width:2px;height:114px;background:#e9eef2;"></div>
<div style="left:2772px;top:1369px;width:2px;height:114px;background:#e9eef2;"></div>
<svg style="left:576px;top:1389px" width="52" height="52" viewBox="0 0 52 52"><defs><clipPath id="c1369"><circle cx="26" cy="26" r="26"/></clipPath><filter id="f1369" x="-10%" y="-10%" width="120%" height="120%"><feGaussianBlur stdDeviation="0.9"/></filter></defs><g clip-path="url(#c1369)"><g filter="url(#f1369)"><rect width="52" height="52" fill="#b89a92"/><rect x="0" y="0" width="14" height="52" fill="#5c5555"/><rect x="40" y="8" width="12" height="20" fill="#2f2c2c"/><path d="M40 30 L52 26 L52 46 Z" fill="#d8d8d8"/><path d="M14 22 Q16 14 24 15 L32 15 Q38 16 37 26 L34 50 L18 50 Z" fill="#3c3e42"/><path d="M20 20 L28 20 L27 42 L19 42 Z" fill="#8e9194"/><ellipse cx="27" cy="8.5" rx="5" ry="6" fill="#8c6450"/><path d="M21 6 Q27 -1 33 5 L33 8 Q27 5 21 8 Z" fill="#8a8a8a"/><path d="M2 44 L30 50 L30 52 L0 52 Z" fill="#2c2a2a"/></g></g></svg>
<span class="t" style="left:638.20px;top:1394px;font-size:27.47px;line-height:27.47px;color:#5b6670;transform:scaleX(0.9880);-webkit-text-stroke:0.8px #5b6670;">Liam Brown</span>
<span class="t" style="left:638.00px;top:1444px;font-size:22.82px;line-height:22.82px;color:#8793a0;transform:scaleX(1.0510);-webkit-text-stroke:1.0px #8793a0;">32h 0m</span>
<div style="left:960px;top:1375px;width:250px;height:80px;background:#dbe1e5;border-radius:8px;overflow:hidden;"><div style="left:0;top:0;width:16px;height:80px;background:#b45cc4"></div></div>
<span class="t" style="left:984.40px;top:1390px;font-size:23.11px;line-height:23.11px;color:#5e6a75;transform:scaleX(1.0240);-webkit-text-stroke:0.8px #5e6a75;">9am - 5pm</span>
<span class="t" style="left:984.60px;top:1424px;font-size:19.04px;line-height:19.04px;color:#6c7781;transform:scaleX(1.0412);">8h 0m</span>
<div style="left:1168px;top:1391px;width:24px;height:24px;background:#ecac27;border-radius:50%;"></div>
<svg style="left:1168px;top:1391px" width="24" height="24" viewBox="-12 -12 24 24"><g transform="rotate(45)"><rect x="-1.6" y="-7.2" width="3.2" height="2" fill="#fff"/><path d="M-1.6 -4.5 h3.2 v8.4 l-1.6 2.8 l-1.6 -2.8 z" fill="#fff"/></g></svg>
<div style="left:1220px;top:1375px;width:250px;height:80px;background:#dbe1e5;border-radius:8px;overflow:hidden;"><div style="left:0;top:0;width:16px;height:80px;background:#2a8c77"></div></div>
<span class="t" style="left:1244.40px;top:1390px;font-size:23.11px;line-height:23.11px;color:#5e6a75;transform:scaleX(1.0240);-webkit-text-stroke:0.8px #5e6a75;">9am - 5pm</span>
<span class="t" style="left:1244.60px;top:1424px;font-size:19.04px;line-height:19.04px;color:#6c7781;transform:scaleX(1.0412);">8h 0m</span>
<div style="left:1428px;top:1391px;width:24px;height:24px;background:#ecac27;border-radius:50%;"></div>
<svg style="left:1428px;top:1391px" width="24" height="24" viewBox="-12 -12 24 24"><g transform="rotate(45)"><rect x="-1.6" y="-7.2" width="3.2" height="2" fill="#fff"/><path d="M-1.6 -4.5 h3.2 v8.4 l-1.6 2.8 l-1.6 -2.8 z" fill="#fff"/></g></svg>
<div style="left:2000px;top:1375px;width:250px;height:80px;background:#dbe1e5;border-radius:8px;overflow:hidden;"></div>
<span class="t" style="left:2024.40px;top:1390px;font-size:23.11px;line-height:23.11px;color:#5e6a75;transform:scaleX(1.0240);-webkit-text-stroke:0.8px #5e6a75;">9am - 5pm</span>
<span class="t" style="left:2024.60px;top:1424px;font-size:19.04px;line-height:19.04px;color:#6c7781;transform:scaleX(1.0412);">8h 0m</span>
<div style="left:2208px;top:1391px;width:24px;height:24px;background:#ecac27;border-radius:50%;"></div>
<svg style="left:2208px;top:1391px" width="24" height="24" viewBox="-12 -12 24 24"><g transform="rotate(45)"><rect x="-1.6" y="-7.2" width="3.2" height="2" fill="#fff"/><path d="M-1.6 -4.5 h3.2 v8.4 l-1.6 2.8 l-1.6 -2.8 z" fill="#fff"/></g></svg>
<div style="left:2260px;top:1375px;width:250px;height:80px;background:#dbe1e5;border-radius:8px;overflow:hidden;"><div style="left:0;top:0;width:16px;height:80px;background:#2a8c77"></div></div>
<span class="t" style="left:2284.40px;top:1390px;font-size:23.11px;line-height:23.11px;color:#5e6a75;transform:scaleX(1.0240);-webkit-text-stroke:0.8px #5e6a75;">9am - 5pm</span>
<span class="t" style="left:2284.60px;top:1424px;font-size:19.04px;line-height:19.04px;color:#6c7781;transform:scaleX(1.0412);">8h 0m</span>
<div style="left:2468px;top:1391px;width:24px;height:24px;background:#ecac27;border-radius:50%;"></div>
<svg style="left:2468px;top:1391px" width="24" height="24" viewBox="-12 -12 24 24"><g transform="rotate(45)"><rect x="-1.6" y="-7.2" width="3.2" height="2" fill="#fff"/><path d="M-1.6 -4.5 h3.2 v8.4 l-1.6 2.8 l-1.6 -2.8 z" fill="#fff"/></g></svg>
<div style="left:556px;top:1599px;width:2218px;height:2px;background:#e9eef2;"></div>
<div style="left:954px;top:1485px;width:2px;height:114px;background:#e9eef2;"></div>
<div style="left:1214px;top:1485px;width:2px;height:114px;background:#e9eef2;"></div>
<div style="left:1473px;top:1485px;width:2px;height:114px;background:#e9eef2;"></div>
<div style="left:1733px;top:1485px;width:2px;height:114px;background:#e9eef2;"></div>
<div style="left:1993px;top:1485px;width:2px;height:114px;background:#e9eef2;"></div>
<div style="left:2253px;top:1485px;width:2px;height:114px;background:#e9eef2;"></div>
<div style="left:2512px;top:1485px;width:2px;height:114px;background:#e9eef2;"></div>
<div style="left:2772px;top:1485px;width:2px;height:114px;background:#e9eef2;"></div>
<svg style="left:576px;top:1505px" width="52" height="52" viewBox="0 0 52 52"><defs><clipPath id="c1485"><circle cx="26" cy="26" r="26"/></clipPath><filter id="f1485" x="-10%" y="-10%" width="120%" height="120%"><feGaussianBlur stdDeviation="0.9"/></filter></defs><g clip-path="url(#c1485)"><g filter="url(#f1485)"><rect width="52" height="52" fill="#58a850"/><ellipse cx="7" cy="26" rx="9" ry="22" fill="#e4f0e2"/><ellipse cx="12" cy="38" rx="5" ry="7" fill="#7cc274"/><ellipse cx="11" cy="14" rx="4" ry="5" fill="#8ccf84"/><ellipse cx="44" cy="17" rx="7" ry="11" fill="#9bd592"/><ellipse cx="41" cy="40" rx="9" ry="10" fill="#3f983e"/><ellipse cx="47" cy="29" rx="4" ry="5" fill="#cfe8cb"/><path d="M15 30 Q17 17 26 18 Q34 18 35 30 L33 40 L19 40 Z" fill="#d9dcdf"/><path d="M14 19 L18 14 L20 24 L17 30 Z" fill="#d9dcdf"/><rect x="21" y="36" width="12" height="5" fill="#c79a7f"/><path d="M20 40 L34 40 L35 52 L19 52 Z" fill="#1f2226"/><ellipse cx="25.5" cy="10" rx="5.6" ry="6.6" fill="#c99a7d"/><path d="M16 15 Q14 0 26 1 Q38 1 35 15 Q33 19 32 12 Q31 5 25 5 Q19 6 20 14 Q19 21 16 15 Z" fill="#1c1816"/></g></g></svg>
<span class="t" style="left:638.20px;top:1510px;font-size:27.47px;line-height:27.47px;color:#5b6670;transform:scaleX(0.9853);-webkit-text-stroke:0.8px #5b6670;">Sophia Chen</span>
<span class="t" style="left:638.00px;top:1560px;font-size:22.82px;line-height:22.82px;color:#8793a0;transform:scaleX(0.9814);-webkit-text-stroke:1.0px #8793a0;">16h 0m</span>
<div style="left:1480px;top:1491px;width:250px;height:80px;background:#dbe1e5;border-radius:8px;overflow:hidden;"></div>
<span class="t" style="left:1504.40px;top:1506px;font-size:23.11px;line-height:23.11px;color:#5e6a75;transform:scaleX(1.0240);-webkit-text-stroke:0.8px #5e6a75;">9am - 5pm</span>
<span class="t" style="left:1504.60px;top:1540px;font-size:19.04px;line-height:19.04px;color:#6c7781;transform:scaleX(1.0412);">8h 0m</span>
<div style="left:1688px;top:1507px;width:24px;height:24px;background:#ecac27;border-radius:50%;"></div>
<svg style="left:1688px;top:1507px" width="24" height="24" viewBox="-12 -12 24 24"><g transform="rotate(45)"><rect x="-1.6" y="-7.2" width="3.2" height="2" fill="#fff"/><path d="M-1.6 -4.5 h3.2 v8.4 l-1.6 2.8 l-1.6 -2.8 z" fill="#fff"/></g></svg>
<div style="left:1740px;top:1491px;width:250px;height:80px;background:#dbe1e5;border-radius:8px;overflow:hidden;"></div>
<span class="t" style="left:1764.40px;top:1506px;font-size:23.11px;line-height:23.11px;color:#5e6a75;transform:scaleX(1.0240);-webkit-text-stroke:0.8px #5e6a75;">9am - 5pm</span>
<span class="t" style="left:1764.60px;top:1540px;font-size:19.04px;line-height:19.04px;color:#6c7781;transform:scaleX(1.0412);">8h 0m</span>
<div style="left:1948px;top:1507px;width:24px;height:24px;background:#ecac27;border-radius:50%;"></div>
<svg style="left:1948px;top:1507px" width="24" height="24" viewBox="-12 -12 24 24"><g transform="rotate(45)"><rect x="-1.6" y="-7.2" width="3.2" height="2" fill="#fff"/><path d="M-1.6 -4.5 h3.2 v8.4 l-1.6 2.8 l-1.6 -2.8 z" fill="#fff"/></g></svg>
<div style="left:556px;top:1715px;width:2218px;height:2px;background:#e9eef2;"></div>
<div style="left:954px;top:1601px;width:2px;height:114px;background:#e9eef2;"></div>
<div style="left:1214px;top:1601px;width:2px;height:114px;background:#e9eef2;"></div>
<div style="left:1473px;top:1601px;width:2px;height:114px;background:#e9eef2;"></div>
<div style="left:1733px;top:1601px;width:2px;height:114px;background:#e9eef2;"></div>
<div style="left:1993px;top:1601px;width:2px;height:114px;background:#e9eef2;"></div>
<div style="left:2253px;top:1601px;width:2px;height:114px;background:#e9eef2;"></div>
<div style="left:2512px;top:1601px;width:2px;height:114px;background:#e9eef2;"></div>
<div style="left:2772px;top:1601px;width:2px;height:114px;background:#e9eef2;"></div>
<div style="left:576px;top:1621px;width:52px;height:52px;background:#dbe1e5;border-radius:50%;"></div>
<span class="t" style="left:598.13px;top:1635px;font-size:23.26px;line-height:23.26px;color:#5b6670;transform:scaleX(1.0000);font-weight:700;">-</span>
<span class="t" style="left:638.20px;top:1626px;font-size:27.47px;line-height:27.47px;color:#5b6670;transform:scaleX(1.0025);-webkit-text-stroke:0.8px #5b6670;">Unassigned shift</span>
<div style="left:1988px;top:445px;width:267px;height:120px;background:transparent;border:5px solid #e0390f;"></div>
<div style="left:6px;top:1716px;width:2860px;height:53px;background:#fefefe;"></div>
</div></body></html>
